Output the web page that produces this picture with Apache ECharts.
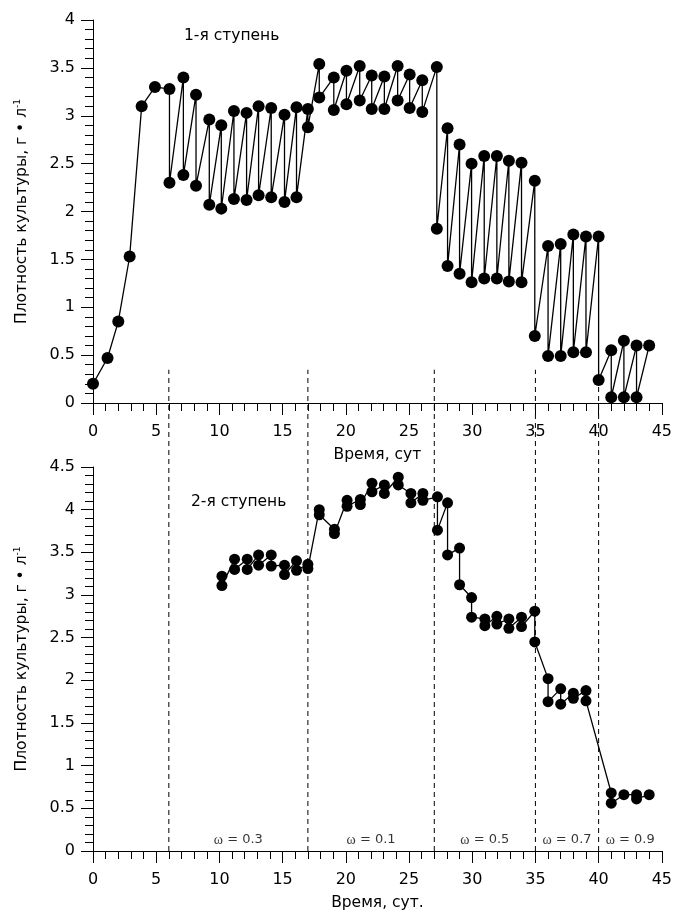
<!DOCTYPE html>
<html>
<head>
<meta charset="utf-8">
<script src="https://cdn.jsdelivr.net/npm/echarts@6/dist/echarts.min.js"></script>
<style>
html,body{margin:0;padding:0;background:#fff;}
#chart{width:675px;height:913px;}
</style>
</head>
<body>
<div id="chart"></div>
<script>
// Stage 1 (top panel): time, days / culture density, g/L
const topDays = [0, 1.15, 2, 2.9, 3.85, 4.9,
  6.05, 6.05, 7.15, 7.15, 8.15, 8.15, 9.2, 9.2, 10.15, 10.15, 11.15, 11.15,
  12.15, 12.15, 13.1, 13.1, 14.1, 14.1, 15.15, 15.15, 16.1, 16.1, 17, 17,
  17.9, 17.9, 19.05, 19.05, 20.05, 20.05, 21.1, 21.1, 22.05, 22.05,
  23.05, 23.05, 24.1, 24.1, 25.05, 25.05, 26.05, 26.05, 27.2, 27.2,
  28.05, 28.05, 29, 29, 29.95, 29.95, 30.95, 30.95, 31.95, 31.95,
  32.9, 32.9, 33.9, 33.9, 34.95, 34.95, 36, 36, 37, 37, 38, 38, 39, 39,
  40, 40, 41, 41, 42, 42, 43, 43, 44];
const topDensity = [0.2, 0.47, 0.85, 1.53, 3.1, 3.3,
  3.28, 2.3, 3.4, 2.38, 3.22, 2.27, 2.96, 2.07, 2.9, 2.03, 3.05, 2.13,
  3.03, 2.12, 3.1, 2.17, 3.08, 2.15, 3.01, 2.1, 3.09, 2.15, 3.07, 2.88,
  3.54, 3.19, 3.4, 3.06, 3.47, 3.12, 3.52, 3.16, 3.42, 3.07,
  3.41, 3.07, 3.52, 3.16, 3.43, 3.08, 3.37, 3.04, 3.51, 1.82,
  2.87, 1.43, 2.7, 1.35, 2.5, 1.26, 2.58, 1.3, 2.58, 1.3,
  2.53, 1.27, 2.51, 1.26, 2.32, 0.7, 1.64, 0.49, 1.66, 0.49, 1.76, 0.53, 1.74, 0.53,
  1.74, 0.24, 0.55, 0.06, 0.65, 0.06, 0.6, 0.06, 0.6];

// Stage 2 (bottom panel)
const bottomDays = [10.2, 10.2, 11.2, 11.2, 12.2, 12.2, 13.1, 13.1, 14.1, 14.1,
  15.15, 15.15, 16.1, 16.1, 17, 17, 17.9, 17.9, 19.1, 19.1, 20.1, 20.1,
  21.15, 21.15, 22.07, 22.07, 23.05, 23.05, 24.15, 24.15, 25.15, 25.15,
  26.1, 26.1, 27.25, 27.25, 28.05, 28.05, 29, 29, 29.95, 29.95, 31, 31,
  31.95, 31.95, 32.9, 32.9, 33.9, 33.9, 34.95, 34.95, 36, 36, 37, 37,
  38, 38, 39, 39, 41, 41, 42, 43, 43, 44];
const bottomDensity = [3.22, 3.11, 3.42, 3.3, 3.42, 3.3, 3.47, 3.35, 3.47, 3.34,
  3.35, 3.24, 3.4, 3.29, 3.36, 3.31, 4.0, 3.94, 3.77, 3.72, 4.11, 4.04,
  4.12, 4.06, 4.31, 4.21, 4.29, 4.19, 4.38, 4.29, 4.19, 4.08,
  4.19, 4.11, 4.15, 3.76, 4.08, 3.47, 3.55, 3.12, 2.97, 2.74, 2.72, 2.64,
  2.75, 2.66, 2.72, 2.61, 2.74, 2.63, 2.81, 2.45, 2.02, 1.75, 1.9, 1.72,
  1.85, 1.79, 1.88, 1.76, 0.68, 0.56, 0.66, 0.66, 0.61, 0.66];

// Dilution regime boundaries (days) and dilution rates
const stageEdges = [6, 17, 27, 35, 40, 45];
const omegaValues = ['0.3', '0.1', '0.5', '0.7', '0.9'];

const xTicks = {min: 0, max: 45, interval: 5};

const zip = (xs, ys) => xs.map((x, i) => [x, ys[i]]);

const font = 'DejaVu Sans, Liberation Sans, sans-serif';
const axisCommon = {
  axisLine: {onZero: false, lineStyle: {color: '#000', width: 1}},
  axisTick: {inside: false, length: 12, lineStyle: {color: '#000', width: 1}},
  minorTick: {show: true, splitNumber: 5, length: 8, lineStyle: {color: '#000', width: 1}},
  splitLine: {show: false},
  minorSplitLine: {show: false}
};

function xAxis(gridIndex, name) {
  return Object.assign({}, axisCommon, {
    type: 'value', gridIndex, min: xTicks.min, max: xTicks.max, interval: xTicks.interval,
    name, nameLocation: 'middle', nameGap: 44,
    nameTextStyle: {fontFamily: font, fontSize: 15.5, color: '#000'},
    axisLabel: {fontFamily: font, fontSize: 16, color: '#000', margin: 21}
  });
}
function yAxis(gridIndex, max) {
  return Object.assign({}, axisCommon, {
    type: 'value', gridIndex, min: 0, max, interval: 0.5,
    name: 'Плотность культуры, г • л{sup|-1}', nameLocation: 'middle', nameGap: 62, nameRotate: 90,
    nameTextStyle: {fontFamily: font, fontSize: 15.5, color: '#000',
      rich: {sup: {fontFamily: font, fontSize: 9, color: '#000', padding: [0, 0, 9, 0]}}},
    axisLabel: {fontFamily: font, fontSize: 16, color: '#000', margin: 18}
  });
}

const pointSeries = (xIdx, data, size) => ({
  type: 'line', xAxisIndex: xIdx, yAxisIndex: xIdx, data,
  symbol: 'circle', symbolSize: size, showSymbol: true,
  lineStyle: {color: '#000', width: 1.3},
  itemStyle: {color: '#000'},
  animation: false, z: 5
});

const dashSeries = stageEdges.slice(0, 5).map(b => ({
  type: 'line', xAxisIndex: 1, yAxisIndex: 1, clip: false,
  data: [[b, 0], [b, 5.64]], symbol: 'none',
  lineStyle: {color: '#000', width: 1, type: [5, 4]},
  animation: false, silent: true, z: 2
}));

const omegaSeries = {
  type: 'scatter', xAxisIndex: 1, yAxisIndex: 1, symbolSize: 0,
  data: omegaValues.map((w, i) => ({value: [(stageEdges[i] + stageEdges[i + 1]) / 2, 0.13], name: w})),
  label: {show: true, position: 'inside', color: '#000',
    formatter: p => '{w|ω} = ' + p.name,
    fontFamily: font, fontSize: 13,
    rich: {w: {fontFamily: 'Liberation Serif, DejaVu Serif, serif', fontSize: 14, color: '#000'}}},
  animation: false, silent: true
};

const chart = echarts.init(document.getElementById('chart'), null, {renderer: 'canvas'});
chart.setOption({
  backgroundColor: '#fff',
  animation: false,
  title: [
    {text: '1-я ступень', left: 179, top: 23, textStyle: {fontFamily: font, fontSize: 15.5, fontWeight: 'normal', color: '#000'}},
    {text: '2-я ступень', left: 186, top: 489, textStyle: {fontFamily: font, fontSize: 15.5, fontWeight: 'normal', color: '#000'}}
  ],
  grid: [
    {left: 93, width: 570, top: 20, height: 383},
    {left: 93, width: 570, top: 467, height: 384}
  ],
  xAxis: [xAxis(0, 'Время, сут'), xAxis(1, 'Время, сут.')],
  yAxis: [yAxis(0, 4), yAxis(1, 4.5)],
  series: [
    ...dashSeries,
    pointSeries(0, zip(topDays, topDensity), 12),
    pointSeries(1, zip(bottomDays, bottomDensity), 11),
    omegaSeries
  ]
});
</script>
</body>
</html>
